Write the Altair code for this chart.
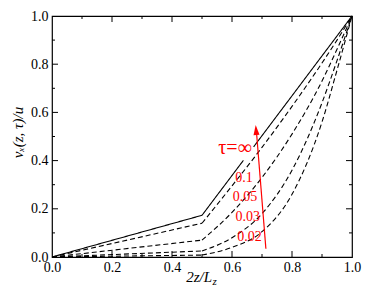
import altair as alt
import pandas as pd

W, H = 300, 241

# steady profile (tau = infinity), solid, with a gap where the label sits
solid_segments = [
    ([0.0, 0.5], [0.0, 0.173]),
    ([0.5, 0.638], [0.173, 0.401]),
    ([0.672, 1.0], [0.457, 1.0]),
]

# transient profiles (dashed)
tau_names = ["0.1", "0.05", "0.03", "0.02"]
kink_x = 0.5
upper_x = [0.5, 0.6, 0.7, 0.8, 0.9, 0.95, 1.0]
upper_v = {
    "0.1":  [0.140, 0.295, 0.455, 0.625, 0.805, 0.900, 1.0],
    "0.05": [0.070, 0.185, 0.330, 0.510, 0.730, 0.862, 1.0],
    "0.03": [0.025, 0.080, 0.180, 0.360, 0.640, 0.815, 1.0],
    "0.02": [0.008, 0.040, 0.105, 0.260, 0.560, 0.775, 1.0],
}

# annotation anchors (data units)
lab_text = ["0.1", "0.05", "0.03", "0.02"]
lab_x = [0.669, 0.684, 0.693, 0.699]
lab_y = [0.312, 0.232, 0.151, 0.068]
inf_text = ["τ=∞"]
inf_x = [0.666]
inf_y = [0.427]
arrow_x = [0.713, 0.6815]
arrow_y = [0.034, 0.52]
tip_x = [0.679]
tip_y = [0.548]

major_ticks = [0.2, 0.4, 0.6, 0.8]
minor_ticks = [0.1, 0.3, 0.5, 0.7, 0.9]
label_ticks = [0.0, 0.2, 0.4, 0.6, 0.8, 1.0]

rows = []
for i, (xs_, vs_) in enumerate(solid_segments):
    for x, v in zip(xs_, vs_):
        rows.append({"x": x, "v": v, "seg": f"s{i}", "style": "solid"})
for t in tau_names:
    rows.append({"x": 0.0, "v": 0.0, "seg": f"{t}-low", "style": "dashed"})
    rows.append({"x": kink_x, "v": upper_v[t][0], "seg": f"{t}-low", "style": "dashed"})
    for x, v in zip(upper_x, upper_v[t]):
        rows.append({"x": x, "v": v, "seg": f"{t}-up", "style": "dashed"})
df = pd.DataFrame(rows)

serif = "Liberation Serif, Times New Roman, Times, serif"
xs = alt.Scale(domain=[0, 1], nice=False, zero=False)
ys = alt.Scale(domain=[0, 1], nice=False, zero=False)

x_axis = alt.Axis(values=label_ticks, format=".1f", ticks=False, domain=False, grid=False,
                  labelFont=serif, labelFontSize=14, labelColor="black", labelPadding=3,
                  title=None, labelFlush=False)
y_axis = alt.Axis(values=label_ticks, format=".1f", ticks=False, domain=False, grid=False,
                  labelFont=serif, labelFontSize=14, labelColor="black", labelPadding=4,
                  title="vₓ(z, τ)/u", titleFont=serif, titleFontSize=15, titleFontStyle="italic",
                  titleFontWeight="normal", titleColor="black", titleX=-30, titleY=116,
                  titleBaseline="alphabetic", labelFlush=False)

lines = alt.Chart(df).mark_line(interpolate="monotone", strokeWidth=1.1, color="black").encode(
    x=alt.X("x:Q", scale=xs, axis=x_axis),
    y=alt.Y("v:Q", scale=ys, axis=y_axis),
    detail="seg:N",
    strokeDash=alt.StrokeDash("style:N", scale=alt.Scale(domain=["solid", "dashed"], range=[[1, 0], [5, 3]]), legend=None),
)

def tick_layers(vals, length):
    d = pd.DataFrame({"p": vals})
    base = alt.Chart(d).mark_rule(color="black", strokeWidth=1)
    return [
        base.encode(x=alt.X("p:Q", scale=xs), y=alt.value(H), y2=alt.value(H - length)),
        base.encode(x=alt.X("p:Q", scale=xs), y=alt.value(0), y2=alt.value(length)),
        base.encode(y=alt.Y("p:Q", scale=ys), x=alt.value(0), x2=alt.value(length)),
        base.encode(y=alt.Y("p:Q", scale=ys), x=alt.value(W), x2=alt.value(W - length)),
    ]

ticks = tick_layers(major_ticks, 6) + tick_layers(minor_ticks, 3)

red = "#ff0000"
labels = alt.Chart(pd.DataFrame({"t": lab_text, "x": lab_x, "y": lab_y})).mark_text(
    align="right", baseline="alphabetic", font=serif, fontSize=14, color=red
).encode(x=alt.X("x:Q", scale=xs), y=alt.Y("y:Q", scale=ys), text="t:N")

inf_label = alt.Chart(pd.DataFrame({"t": inf_text, "x": inf_x, "y": inf_y})).mark_text(
    align="right", baseline="alphabetic", font=serif, fontSize=20, color=red
).encode(x=alt.X("x:Q", scale=xs), y=alt.Y("y:Q", scale=ys), text="t:N")

arrow = alt.Chart(pd.DataFrame({"x": arrow_x, "y": arrow_y})).mark_line(color=red, strokeWidth=1.2).encode(
    x=alt.X("x:Q", scale=xs), y=alt.Y("y:Q", scale=ys))
head = alt.Chart(pd.DataFrame({"x": tip_x, "y": tip_y})).mark_point(
    shape="M0,0L0.6,2L-0.6,2Z", size=100, filled=True, color=red, opacity=1, angle=355.4, strokeWidth=0
).encode(x=alt.X("x:Q", scale=xs), y=alt.Y("y:Q", scale=ys))

xt1 = alt.Chart(pd.DataFrame({"t": ["2z/L"]})).mark_text(
    align="right", baseline="alphabetic", font=serif, fontSize=15, fontStyle="italic", color="black"
).encode(text="t:N", x=alt.value(160), y=alt.value(266))
xt2 = alt.Chart(pd.DataFrame({"t": ["z"]})).mark_text(
    align="left", baseline="alphabetic", font=serif, fontSize=11, fontStyle="italic", color="black"
).encode(text="t:N", x=alt.value(160.5), y=alt.value(269))

chart = alt.layer(lines, *ticks, labels, inf_label, arrow, head, xt1, xt2).properties(
    width=W, height=H,
    autosize=alt.AutoSizeParams(type="none"),
    padding={"left": 44, "top": 8, "right": 14, "bottom": 30},
).configure_view(stroke="black", strokeWidth=1.2).configure_scale(continuousPadding=0)

chart.save("out.html", embed_options={"renderer": "svg", "actions": False})
